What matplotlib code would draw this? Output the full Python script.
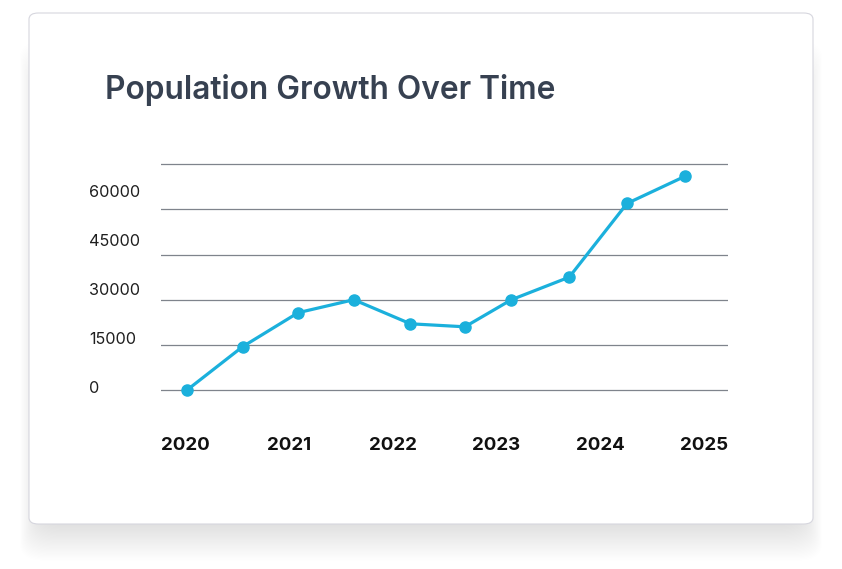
import matplotlib.pyplot as plt
import numpy as np
from matplotlib.patches import FancyBboxPatch

# data (time as fractional years)
years = [2020.23, 2020.72, 2021.21, 2021.70, 2022.20, 2022.68, 2023.09, 2023.60, 2024.11, 2024.62]
population = [0, 14400, 25700, 30000, 22000, 21000, 30000, 37500, 62000, 71000]
year_labels = ['2020', '2021', '2022', '2023', '2024', '2025']
grid_values = [0, 15000, 30000, 45000, 60000, 75000]
y_labels = ['0', '15000', '30000', '45000', '60000']

W, H = 842, 569
fig = plt.figure(figsize=(W / 100, H / 100), dpi=100)
fig.patch.set_facecolor('white')


def px_box(x0, y0, x1, y1):
    return x0 / W, 1 - y1 / H, (x1 - x0) / W, (y1 - y0) / H


# soft shadow under the card, fading in from the top
for i in range(30):
    g = i * 1.2
    bx, by, bw, bh = px_box(29 + 10 - g * 0.55, 13 + 80 - g * 1.5, 813 - 10 + g * 0.55, 524 + 2 + g)
    fig.patches.append(FancyBboxPatch((bx, by), bw, bh, boxstyle='round,pad=0,rounding_size=0.03',
                                      transform=fig.transFigure, facecolor='#2a2a4a',
                                      edgecolor='none', alpha=0.0035, zorder=0))
bx, by, bw, bh = px_box(29, 13, 813, 524)
fig.patches.append(FancyBboxPatch((bx, by), bw, bh, boxstyle='round,pad=0,rounding_size=0.011',
                                  transform=fig.transFigure, facecolor='white',
                                  edgecolor='#d6d6de', linewidth=0.8, zorder=1))

fig.text(105 / W, 1 - 90 / H, 'Population Growth Over Time', fontsize=22.8, color='#374151',
         family=['Inter', 'DejaVu Sans'], fontweight='semibold', va='center', ha='left', zorder=3)

# axes: x 161..728 px, y gridline 0 at 390px, 75000 at 164.3px
px_per_unit = (390 - 164.3) / 75000
ylo, yhi = -4000, 78000
top_px = 164.3 - (yhi - 75000) * px_per_unit
bot_px = 390 + (0 - ylo) * px_per_unit
ax = fig.add_axes([161 / W, 1 - bot_px / H, 567 / W, (bot_px - top_px) / H], zorder=2)
ax.set_facecolor('none')
ax.set_xlim(2020, 2025)
ax.set_ylim(ylo, yhi)
for s in ax.spines.values():
    s.set_visible(False)

ax.set_yticks(grid_values)
ax.set_yticklabels([])
ax.grid(axis='y', color='#7f848c', linewidth=0.9)
ax.tick_params(axis='y', which='both', length=0)

# y labels sit a bit off the grid lines
label_pos = np.array(grid_values[:5]) * (49 / 45.14) + 900
ax.set_yticks(label_pos, minor=True)
ax.set_yticklabels(y_labels, minor=True, fontsize=11.7, color='#1f1f1f', family=['Inter', 'DejaVu Sans'],
                   ha='left')
ax.tick_params(axis='y', which='minor', pad=52)

# x labels spread edge to edge
half = 0.215
ax.set_xticks(np.linspace(2020 + half, 2025 - half, len(year_labels)))
ax.set_xticklabels(year_labels, fontsize=13.5, fontweight='bold', color='#111111',
                   family=['Inter', 'DejaVu Sans'])
ax.tick_params(axis='x', length=0, pad=25.5)

ax.plot(years, population, color='#1bb0dc', linewidth=2.3, marker='o', markersize=8,
        clip_on=False, zorder=4)

fig.savefig('out.png', dpi=100, facecolor='white')
